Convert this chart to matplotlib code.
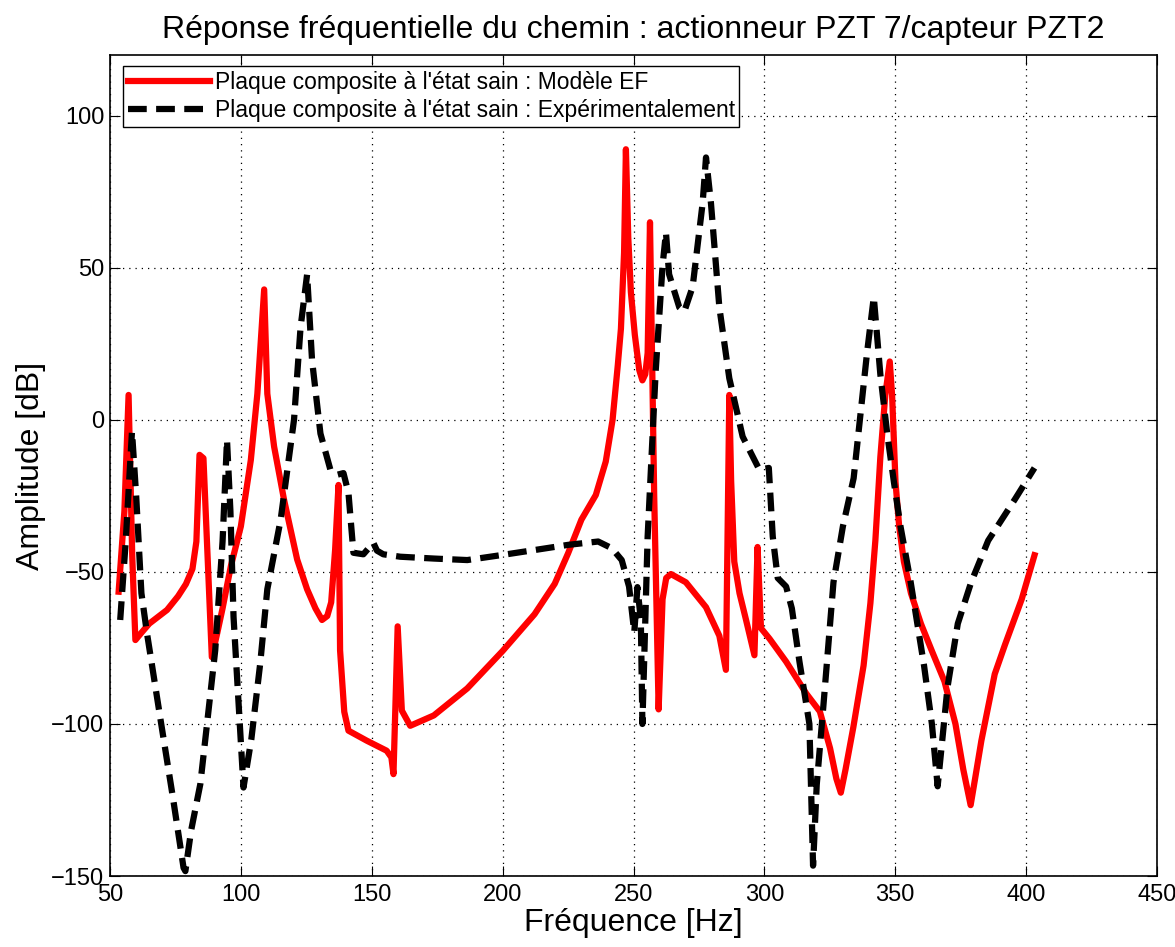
import matplotlib
matplotlib.use('Agg')
import matplotlib.pyplot as plt

plt.rcParams['font.family'] = ['Liberation Sans', 'DejaVu Sans']

# modele EF (rouge)
freq_ef = [53.3, 55.5, 57.1, 58.5, 59.7, 62, 65, 71.8, 76, 79, 81.5, 83, 84.2, 85.7, 88.9, 91, 93,
           96.2, 100, 103.8, 106.3, 108.9, 110.1, 112.7, 116.5, 121.5, 125.3, 128.5, 131, 133,
           134.5, 136, 137.3, 137.9, 139.5, 141.1, 148.1, 155.7, 157.5, 158.3, 159.9, 161.5,
           164.7, 173.7, 186.5, 200, 212.2, 219.9, 225, 230.1, 235.6, 239.4, 242, 244, 245.2,
           246.4, 247.1, 248, 249, 250.5, 252.2, 253.4, 254.5, 255.4, 256.3, 257.9, 259.6, 261.1,
           262.5, 264.3, 270, 277.7, 282.8, 285.3, 286.6, 287.3, 288.5, 290.5, 293, 296.2, 297.4,
           298.7, 302, 308.3, 316, 321.2, 325.1, 327.5, 329.2, 331, 334, 337.9, 340.5, 342.4,
           344.3, 346.2, 347.9, 348.8, 350.1, 351.5, 353.3, 356, 359.8, 364, 368.8, 373, 376,
           378.8, 380.5, 382.9, 388, 391.9, 398.3, 403.2]
amp_ef = [-56.5, -30, 8.2, -45, -72.4, -70, -67, -62.5, -58, -54, -49, -40, -11.5, -12.6, -78, -70, -62,
          -48, -35, -13.2, 8.6, 42.9, 8.6, -8.8, -26.3, -45.9, -55.7, -62, -65.8, -64.5,
          -60, -42.8, -21.4, -75.8, -96, -102.2, -105.5, -108.8, -111, -116.5, -67.9, -95.6,
          -100.6, -97.2, -88.3, -76, -63.9, -53.9, -43.9, -32.8, -24.7, -13.7, 0, 18, 30,
          55, 89, 60, 42, 28, 16.4, 13, 15, 22, 65, -24.7, -95.2, -59,
          -52, -50.7, -53.4, -61.6, -71, -82.2, 8.2, -20, -46.6, -57, -65.8, -77.4, -41.8,
          -68.5, -72, -79.5, -90, -95.9, -108, -118, -122.6, -115, -101, -80.8, -60.3, -39.7,
          -12.3, 8.2, 19.2, 8, -20.5, -35, -46.6, -57, -67, -76, -86, -100, -115,
          -126.7, -118, -105.5, -83.6, -74, -59, -44.5]

# experimental (noir)
freq_exp = [53.9, 56, 58.4, 60, 62, 64.1, 69.2, 74, 78.1, 78.8, 81, 84.5, 90.2, 93, 94.7, 96,
            97.2, 101, 104, 107.4, 110.1, 115.2, 120.3, 122.8, 125.3, 127.2, 130.4, 134.2, 137,
            139.2, 141.1, 143, 146.8, 150.6, 152, 154.4, 160.9, 173.7, 186.5, 200, 212.2, 225,
            236.5, 241.7, 245.5, 248.3, 250.3, 251.5, 252.8, 253.4, 255.4, 258.5, 261.1, 262.4,
            263.6, 267.5, 269.4, 272.6, 276.4, 277.7, 279.6, 282.8, 286.6, 291.7, 298.1, 301.7,
            303.2, 305.1, 308.3, 310.5, 313.4, 317.2, 318.6, 320, 322.5, 326.4, 330, 334.1, 339.2,
            341.8, 344.3, 347, 349.5, 352, 355.9, 361, 364, 366.2, 368, 370, 373.9, 379, 385.5,
            395.8, 403.2]
amp_exp = [-65.8, -40, -3.8, -25, -57, -70, -98, -124, -147.3, -148.4, -135, -119.8, -75.8, -40,
           -6.6, -30, -64.8, -120.9, -105, -80, -55.7, -32.8, 0, 30.4, 47.8, 19.5, -4.5, -16.4, -18,
           -17.5, -24, -43.7, -44.2, -40.4, -43, -44.2, -45, -45.6, -46.1, -44.4, -42.8, -41.1,
           -40, -42.2, -46.1, -54.8, -69.9, -55, -65.8, -100, -38.4, 16.4, 50.7, 61.6,
           47.9, 37, 35.6, 43.8, 71.2, 86.3, 71.2, 37, 13.7, -5.5, -16.4, -15.8,
           -38.4, -52, -54.8, -62, -79.5, -100, -146.6, -120, -94.5, -53.4, -35, -19.2, 21.9,
           40.4, 15, -5, -20.5, -35, -53.4, -80.8, -100, -120.5, -105, -87.7, -67, -53.4, -39.7,
           -26, -15.8]

xticks = [50, 100, 150, 200, 250, 300, 350, 400, 450]
yticks = [-150, -100, -50, 0, 50, 100]

fig = plt.figure(figsize=(11.75, 9.47), dpi=100)
ax = fig.add_axes([110 / 1175, 1 - 876 / 947, 1047 / 1175, 821 / 947])

ax.plot(freq_ef, amp_ef, color='#ff0000', lw=4.5,
        label="Plaque composite à l'état sain : Modèle EF")
ax.plot(freq_exp, amp_exp, color='black', lw=4.5, dashes=(3, 1.5),
        label="Plaque composite à l'état sain : Expérimentalement")

ax.set_xlim(50, 450)
ax.set_ylim(-150, 120)
ax.set_xticks(xticks)
ax.set_yticks(yticks)
ax.tick_params(direction='in', top=True, right=True, labelsize=17, length=7)
ax.tick_params(axis='x', pad=6)
ax.tick_params(axis='y', pad=4)
ax.grid(True, color='black', linestyle=(0, (1, 4)), linewidth=0.9)
for s in ax.spines.values():
    s.set_linewidth(1.2)

ax.set_xlabel('Fréquence [Hz]', fontsize=23, labelpad=1)
ax.set_ylabel('Amplitude [dB]', fontsize=23, labelpad=4)
ax.set_title('Réponse fréquentielle du chemin : actionneur PZT 7/capteur PZT2', fontsize=23, pad=12)

leg = ax.legend(loc='upper left', bbox_to_anchor=(0.0124, 0.9866), borderaxespad=0,
                fontsize=16.5, handlelength=3.6, fancybox=False, framealpha=1,
                edgecolor='black', borderpad=0.2, labelspacing=0.25, handletextpad=0.2)
leg.get_frame().set_linewidth(1.0)

fig.savefig('out.png', dpi=100)
